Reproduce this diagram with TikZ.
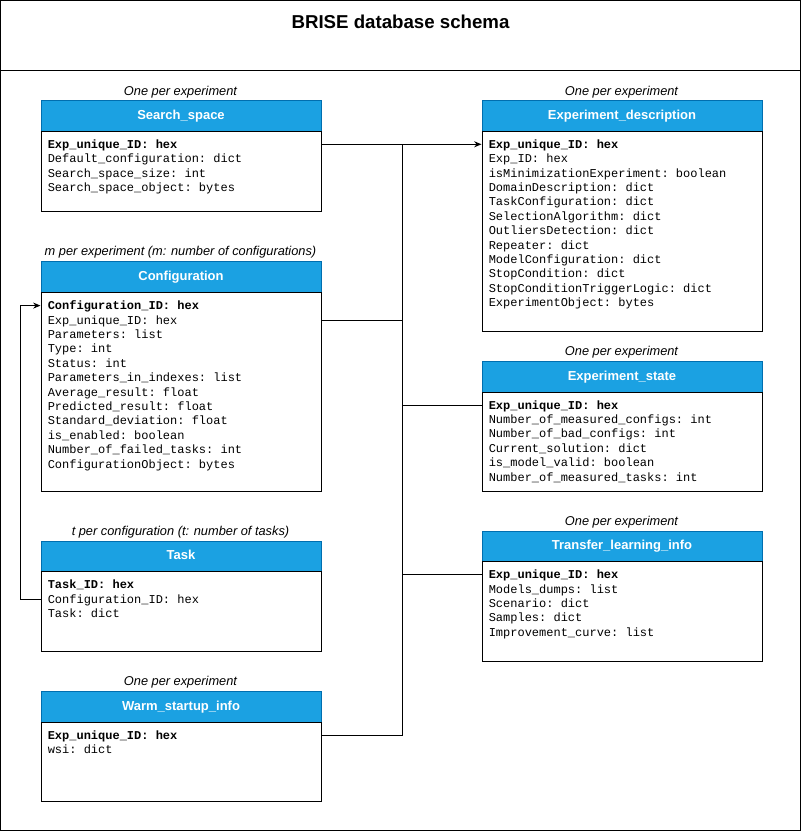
\documentclass[tikz,border=0pt]{standalone}
\usepackage{fontspec}
\setmainfont{Liberation Sans}
\setmonofont{Liberation Mono}
\usetikzlibrary{arrows.meta}
\definecolor{hdrblue}{HTML}{1BA1E2}
\definecolor{hdrline}{HTML}{006EAF}
\tikzset{
  hdr/.style={draw=hdrline, fill=hdrblue, line width=0.75pt, anchor=north west,
    minimum width=210pt, inner sep=0pt, text=white, text height=7pt, text depth=2pt,
    font=\fontsize{9.75}{11}\selectfont\bfseries},
  bodybox/.style={draw=black, fill=white, line width=0.75pt, anchor=north west,
    minimum width=210pt, inner sep=0pt},
  rowtxt/.style={anchor=base west, inner sep=0pt, font=\ttfamily\fontsize{9}{10.8}\selectfont},
  captxt/.style={anchor=base, inner sep=0pt, font=\fontsize{9.6}{11}\selectfont\itshape},
  conn/.style={draw=black, line width=0.75pt},
  arrowend/.style={-{Stealth[length=5.5pt,width=4.5pt]}},
}
% #1 name, #2 x, #3 top, #4 header bottom, #5 body bottom, #6 title, #7 caption, #8 key row, #9 other rows
\newcommand\dbtable[9]{%
  \node[captxt] (#1-cap) at ({#2+140},{#3-5}) {#7};
  \node[hdr, minimum height={(#4-#3)*0.75}] (#1h) at (#2,#3) {#6};
  \node[bodybox, minimum height={(#5-#4)*0.75}] (#1b) at (#2,#4) {};
  \coordinate (#1-r1) at (#2,{#4+13.3});
  \node[rowtxt] (#1-t1) at ({#2+7},{#4+17.3}) {\bfseries #8};
  \foreach \t [count=\i from 2] in {#9} {
    \coordinate (#1-r\i) at (#2,{#4+13.3+14.4*(\i-1)});
    \node[rowtxt] (#1-t\i) at ({#2+7},{#4+17.3+14.4*(\i-1)}) {\t};
  }%
}
\begin{document}
\begin{tikzpicture}[x=0.75pt,y=-0.75pt]
\useasboundingbox (0,0) rectangle (801,831);
\draw[line width=0.75pt] (0.5,0.5) rectangle (800.5,830.5);
\draw[line width=0.75pt] (0.5,70.5) -- (800.5,70.5);
\node[font=\fontsize{14}{16}\selectfont\bfseries, inner sep=0pt] (title) at (400.5,21.5) {BRISE database schema};

\dbtable{ss}{40.5}{100.5}{131}{210.7}{Search\_space}{One per experiment}{Exp\_unique\_ID: hex}
  {Default\_configuration: dict, Search\_space\_size: int, Search\_space\_object: bytes}
\dbtable{cf}{40.5}{260.7}{292.3}{490.7}{Configuration}{m per experiment (m: number of configurations)}{Configuration\_ID: hex}
  {Exp\_unique\_ID: hex, Parameters: list, Type: int, Status: int, Parameters\_in\_indexes: list,
   Average\_result: float, Predicted\_result: float, Standard\_deviation: float, is\_enabled: boolean,
   Number\_of\_failed\_tasks: int, ConfigurationObject: bytes}
\dbtable{tk}{40.5}{540.7}{571.3}{650.5}{Task}{t per configuration (t: number of tasks)}{Task\_ID: hex}
  {Configuration\_ID: hex, Task: dict}
\dbtable{ws}{40.5}{690.7}{721.7}{800.7}{Warm\_startup\_info}{One per experiment}{Exp\_unique\_ID: hex}
  {wsi: dict}
\dbtable{ed}{481.5}{100.5}{131}{330.7}{Experiment\_description}{One per experiment}{Exp\_unique\_ID: hex}
  {Exp\_ID: hex, isMinimizationExperiment: boolean, DomainDescription: dict, TaskConfiguration: dict,
   SelectionAlgorithm: dict, OutliersDetection: dict, Repeater: dict, ModelConfiguration: dict,
   StopCondition: dict, StopConditionTriggerLogic: dict, ExperimentObject: bytes}
\dbtable{es}{481.5}{360.7}{391.7}{490.7}{Experiment\_state}{One per experiment}{Exp\_unique\_ID: hex}
  {Number\_of\_measured\_configs: int, Number\_of\_bad\_configs: int, Current\_solution: dict,
   is\_model\_valid: boolean, Number\_of\_measured\_tasks: int}
\dbtable{tl}{481.5}{530.7}{561.3}{660.7}{Transfer\_learning\_info}{One per experiment}{Exp\_unique\_ID: hex}
  {Models\_dumps: list, Scenario: dict, Samples: dict, Improvement\_curve: list}

\coordinate (trunk) at (402.5,0);
\draw[conn,arrowend] (ss-r1 -| ssb.east) -- (ed-r1 -| edb.west);
\draw[conn] (trunk |- ss-r1) -- (trunk |- ws-r1);
\draw[conn] (cf-r2 -| cfb.east) -- (trunk |- cf-r2);
\draw[conn] (ws-r1 -| wsb.east) -- (trunk |- ws-r1);
\draw[conn] (trunk |- es-r1) -- (es-r1 -| esb.west);
\draw[conn] (trunk |- tl-r1) -- (tl-r1 -| tlb.west);
\draw[conn,arrowend] (tk-r2 -| tkb.west) -- ++(-20,0) |- (cf-r1 -| cfb.west);
\end{tikzpicture}
\end{document}
